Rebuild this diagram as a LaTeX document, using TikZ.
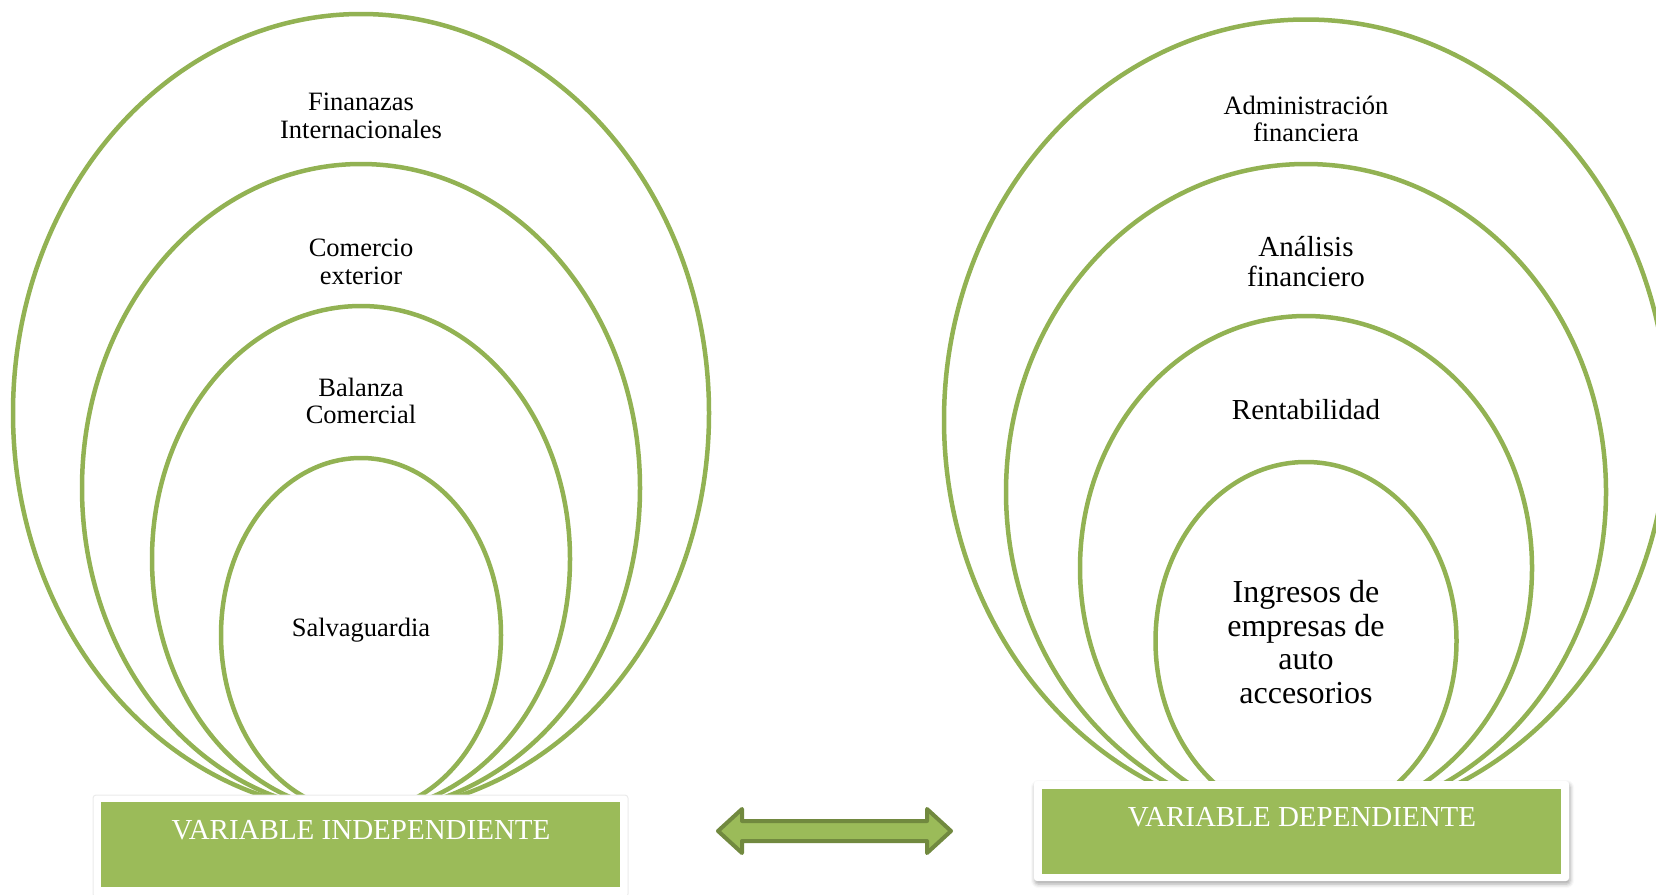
\documentclass[tikz,border=0pt]{standalone}
\usepackage{fontspec}
\setmainfont{Liberation Serif}
\usetikzlibrary{shapes.geometric, shadows.blur}
\definecolor{ringgreen}{HTML}{92B253}
\definecolor{boxgreen}{HTML}{9BBB59}
\definecolor{arrowedge}{HTML}{71893F}

\begin{document}
\begin{tikzpicture}[x=1pt, y=-1pt,
    ring/.style={ellipse, draw=ringgreen, line width=4.5pt, inner sep=0pt},
    lbl/.style={align=center, font=\fontsize{26.5}{27.5}\selectfont},
    frame/.style={fill=white, rounded corners=3pt, inner sep=0pt},
    band/.style={fill=boxgreen, inner sep=0pt},
    bandtext/.style={text=white, font=\fontsize{29}{34}\selectfont}]
    \path[use as bounding box, clip] (0,0) rectangle (1656,894);

    % left target
    \node[ring, minimum width=696pt, minimum height=798pt] at (361, 413) (l1) {};
    \node[ring, minimum width=558pt, minimum height=648pt] at (361, 488) (l2) {};
    \node[ring, minimum width=418pt, minimum height=506pt] at (361, 559) (l3) {};
    \node[ring, minimum width=280pt, minimum height=354pt] at (361, 635) (l4) {};
    \node[lbl] at (361, 116) (fi) {Finanazas\\Internacionales};
    \node[lbl] at (361, 262) (ce) {Comercio\\exterior};
    \node[lbl] at (361, 401) (bc) {Balanza\\Comercial};
    \node[lbl] at (361, 630) (sg) {Salvaguardia};

    % right target
    \node[ring, minimum width=724pt, minimum height=801pt] at (1306, 420) (r1) {};
    \node[ring, minimum width=600pt, minimum height=656pt] at (1306, 492) (r2) {};
    \node[ring, minimum width=452pt, minimum height=504pt] at (1306, 568) (r3) {};
    \node[ring, minimum width=301pt, minimum height=358pt] at (1306, 641) (r4) {};
    \node[lbl] at (1306, 119) (af) {Administración\\financiera};
    \node[lbl, font=\fontsize{29}{30}\selectfont] at (1306, 262) (an) {Análisis\\financiero};
    \node[lbl, font=\fontsize{29}{30}\selectfont] at (1306, 410) (re) {Rentabilidad};
    \node[lbl, font=\fontsize{32}{33.6}\selectfont] at (1306, 642) (ie) {Ingresos de\\empresas de\\auto\\accesorios};

    % variable boxes
    \node[frame, draw=black!8, line width=1pt, minimum width=535pt, minimum height=102pt] at (360.5, 846) (fl) {};
    \node[band, minimum width=519pt, minimum height=85pt] at (360.5, 844.5) (vi) {};
    \node[bandtext] at (361, 830) (vit) {VARIABLE INDEPENDIENTE};
    \node[frame, blur shadow={shadow xshift=1pt, shadow yshift=-3pt, shadow blur radius=4pt, shadow opacity=35},
        minimum width=535pt, minimum height=100pt] at (1301.5, 831) (fr) {};
    \node[band, minimum width=519pt, minimum height=85pt] at (1301.5, 831.5) (vd) {};
    \node[bandtext] at (1302, 817) (vdt) {VARIABLE DEPENDIENTE};

    % double arrow between the boxes
    \draw[draw=arrowedge, fill=boxgreen, line width=4pt, line join=round]
        (718,831) -- (742,809) -- (742,821) -- (927,821) -- (927,809) -- (951,831)
        -- (927,853) -- (927,841) -- (742,841) -- (742,853) -- cycle;
\end{tikzpicture}
\end{document}
